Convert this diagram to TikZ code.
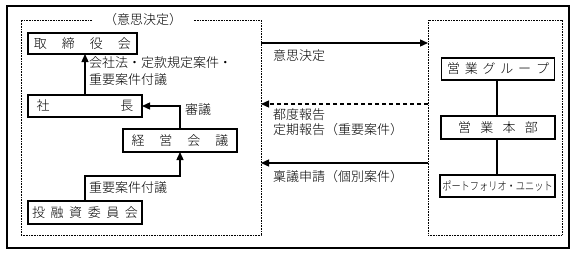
\documentclass[tikz,border=0pt]{standalone}
\usepackage{fontspec}
\setmainfont{Noto Sans CJK JP}[UprightFont=* Light]
\usetikzlibrary{arrows.meta}
\begin{document}
\begin{tikzpicture}[x=1pt,y=-1pt,
  every node/.style={inner sep=0pt,outer sep=0pt},
  txt/.style={font=\fontsize{13}{15}\selectfont},
  lbl/.style={txt,anchor=west},
  orgbox/.style={draw,line width=1.3pt,rectangle,txt},
  dotbox/.style={draw,line width=0.9pt,dash pattern=on 0.9pt off 0.7pt,rectangle,minimum width=#1},
  conn/.style={line width=1.3pt},
  arr/.style={conn,-{Triangle[length=8pt,width=7pt]}}
]
\useasboundingbox (0,0) rectangle (579,255);
% outer frame
\draw[line width=1.3pt] (7,6) rectangle (569,248);
% dotted groups
\node[dotbox=240pt,minimum height=215pt] (L) at (141,127.5) {};
\node[dotbox=134pt,minimum height=215pt] (R) at (495,127.5) {};
\node[txt,fill=white,inner xsep=11pt,inner ysep=2pt] (LT) at (143,20) {（意思決定）};
% left boxes
\node[orgbox,minimum width=109pt,minimum height=21pt] (T) at (82.5,43.5) {\hbox to 97pt{取\hfil 締\hfil 役\hfil 会}};
\node[orgbox,minimum width=114pt,minimum height=22pt] (S) at (85,106) {\hbox to 97pt{社\hfil 長}};
\node[orgbox,minimum width=114pt,minimum height=23pt] (K) at (180,140.5) {\hbox to 97pt{経\hfil 営\hfil 会\hfil 議}};
\node[orgbox,minimum width=114pt,minimum height=23pt] (I) at (85,212.5) {\hbox to 106pt{投\hfil 融\hfil 資\hfil 委\hfil 員\hfil 会}};
% right boxes
\node[orgbox,minimum width=113pt,minimum height=22pt] (G) at (498,69) {\hbox to 102pt{営\hfil 業\hfil グ\hfil ル\hfil ー\hfil プ}};
\node[orgbox,minimum width=114pt,minimum height=23pt] (H) at (498,127.5) {\hbox to 80pt{営\hfil 業\hfil 本\hfil 部}};
\node[orgbox,minimum width=115pt,minimum height=22pt] (P) at (497.5,186) {\scalebox{0.8}[1]{\fontsize{11.5}{13}\selectfont ポートフォリオ・ユニット}};
% right connectors
\draw[conn] (G.south -| 497,0) -- (H.north -| 497,0);
\draw[conn] (H.south -| 497,0) -- (P.north -| 497,0);
% left connectors
\draw[arr] (S.north) -- (S.north |- T.south);
\draw[arr] (K.north) |- (S.east);
\coordinate (IK) at (85,176);
\draw[arr] (I.north) -- (IK) -| (K.south);
% labels left
\node[lbl] (l1) at (89,63) {会社法・定款規定案件・};
\node[lbl] (l2) at (89,80) {重要案件付議};
\node[lbl] (l3) at (185,110) {審議};
\node[lbl] (l4) at (89,188) {重要案件付議};
% cross connectors
\draw[arr] (L.east |- 0,43) -- (R.west |- 0,43);
\draw[arr,dash pattern=on 4pt off 3pt] (R.west |- 0,104) -- (L.east |- 0,104);
\draw[arr] (R.west |- 0,163) -- (L.east |- 0,163);
\node[lbl] (m1) at (273,56) {意思決定};
\node[lbl] (m2) at (273,115) {都度報告};
\node[lbl] (m3) at (273,130) {定期報告（重要案件）};
\node[lbl] (m4) at (273,177) {稟議申請（個別案件）};
\end{tikzpicture}
\end{document}
